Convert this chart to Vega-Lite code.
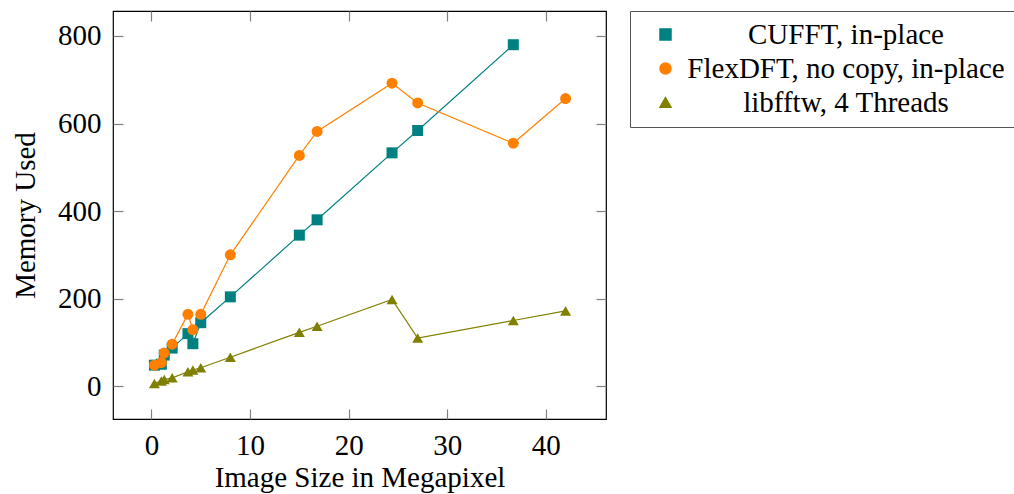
{
  "$schema": "https://vega.github.io/schema/vega-lite/v6.json",
  "width": 493,
  "height": 408,
  "autosize": {"type": "none"},
  "padding": {"left": 113, "top": 11, "right": 408, "bottom": 75},
  "background": "white",
  "config": {
    "font": "Liberation Serif",
    "view": {"stroke": "black", "strokeWidth": 1.2},
    "axis": {
      "labelFont": "Liberation Serif",
      "titleFont": "Liberation Serif",
      "labelFontSize": 29,
      "titleFontSize": 29,
      "labelColor": "black",
      "titleColor": "black",
      "titleFontWeight": "normal",
      "domain": false,
      "grid": false,
      "tickColor": "#808080",
      "tickWidth": 1.2,
      "tickSize": -10
    },
    "legend": {
      "labelFont": "Liberation Serif",
      "labelFontSize": 29,
      "labelColor": "black"
    }
  },
  "data": {
    "values": [
      {"series": "CUFFT, in-place", "mp": 0.3, "mem": 48},
      {"series": "CUFFT, in-place", "mp": 1.0, "mem": 50},
      {"series": "CUFFT, in-place", "mp": 1.3, "mem": 71},
      {"series": "CUFFT, in-place", "mp": 2.1, "mem": 87},
      {"series": "CUFFT, in-place", "mp": 3.7, "mem": 120},
      {"series": "CUFFT, in-place", "mp": 4.2, "mem": 97},
      {"series": "CUFFT, in-place", "mp": 5.0, "mem": 145},
      {"series": "CUFFT, in-place", "mp": 8.0, "mem": 204},
      {"series": "CUFFT, in-place", "mp": 15.0, "mem": 345},
      {"series": "CUFFT, in-place", "mp": 16.8, "mem": 380},
      {"series": "CUFFT, in-place", "mp": 24.4, "mem": 533},
      {"series": "CUFFT, in-place", "mp": 27.0, "mem": 584},
      {"series": "CUFFT, in-place", "mp": 36.7, "mem": 780},
      {"series": "FlexDFT, no copy, in-place", "mp": 0.3, "mem": 48},
      {"series": "FlexDFT, no copy, in-place", "mp": 1.0, "mem": 54},
      {"series": "FlexDFT, no copy, in-place", "mp": 1.3, "mem": 76},
      {"series": "FlexDFT, no copy, in-place", "mp": 2.1, "mem": 96},
      {"series": "FlexDFT, no copy, in-place", "mp": 3.7, "mem": 164},
      {"series": "FlexDFT, no copy, in-place", "mp": 4.2, "mem": 129},
      {"series": "FlexDFT, no copy, in-place", "mp": 5.0, "mem": 164},
      {"series": "FlexDFT, no copy, in-place", "mp": 8.0, "mem": 300},
      {"series": "FlexDFT, no copy, in-place", "mp": 15.0, "mem": 527},
      {"series": "FlexDFT, no copy, in-place", "mp": 16.8, "mem": 582},
      {"series": "FlexDFT, no copy, in-place", "mp": 24.4, "mem": 692},
      {"series": "FlexDFT, no copy, in-place", "mp": 27.0, "mem": 647},
      {"series": "FlexDFT, no copy, in-place", "mp": 36.7, "mem": 555},
      {"series": "FlexDFT, no copy, in-place", "mp": 42.0, "mem": 657},
      {"series": "libfftw, 4 Threads", "mp": 0.3, "mem": 6},
      {"series": "libfftw, 4 Threads", "mp": 1.0, "mem": 12},
      {"series": "libfftw, 4 Threads", "mp": 1.3, "mem": 15},
      {"series": "libfftw, 4 Threads", "mp": 2.1, "mem": 19},
      {"series": "libfftw, 4 Threads", "mp": 3.7, "mem": 33},
      {"series": "libfftw, 4 Threads", "mp": 4.2, "mem": 37},
      {"series": "libfftw, 4 Threads", "mp": 5.0, "mem": 42},
      {"series": "libfftw, 4 Threads", "mp": 8.0, "mem": 66},
      {"series": "libfftw, 4 Threads", "mp": 15.0, "mem": 123},
      {"series": "libfftw, 4 Threads", "mp": 16.8, "mem": 137},
      {"series": "libfftw, 4 Threads", "mp": 24.4, "mem": 198},
      {"series": "libfftw, 4 Threads", "mp": 27.0, "mem": 110},
      {"series": "libfftw, 4 Threads", "mp": 36.7, "mem": 150},
      {"series": "libfftw, 4 Threads", "mp": 42.0, "mem": 172}
    ]
  },
  "layer": [
    {
      "mark": {"type": "line", "strokeWidth": 1.2},
      "encoding": {
        "x": {
          "field": "mp", "type": "quantitative",
          "scale": {"domain": [-3.9, 46.1], "nice": false, "zero": false},
          "axis": {"orient": "bottom", "values": [0, 10, 20, 30, 40], "title": "Image Size in Megapixel", "labelPadding": 22, "titlePadding": 3}
        },
        "y": {
          "field": "mem", "type": "quantitative",
          "scale": {"domain": [-75, 857], "nice": false, "zero": false},
          "axis": {"orient": "left", "values": [0, 200, 400, 600, 800], "title": "Memory Used", "labelPadding": 22, "titlePadding": 17}
        },
        "color": {
          "field": "series", "type": "nominal",
          "scale": {"domain": ["CUFFT, in-place", "FlexDFT, no copy, in-place", "libfftw, 4 Threads"], "range": ["#008080", "#ff8000", "#808000"]},
          "legend": {
            "title": null,
            "orient": "right",
            "offset": 23,
            "padding": 9,
            "strokeColor": "#555555",
            "fillColor": "white",
            "cornerRadius": 0,
            "symbolOpacity": 1,
            "symbolOffset": 12,
            "labelAlign": "center",
            "labelOffset": 166,
            "labelLimit": 1000,
            "rowPadding": 4
          }
        }
      }
    },
    {
      "mark": {"type": "point", "filled": true, "opacity": 1},
      "encoding": {
        "x": {
          "field": "mp", "type": "quantitative",
          "axis": {"orient": "top", "values": [0, 10, 20, 30, 40], "labels": false, "title": null}
        },
        "y": {
          "field": "mem", "type": "quantitative",
          "axis": {"orient": "right", "values": [0, 200, 400, 600, 800], "labels": false, "title": null}
        },
        "color": {"field": "series", "type": "nominal"},
        "shape": {
          "field": "series", "type": "nominal",
          "scale": {"domain": ["CUFFT, in-place", "FlexDFT, no copy, in-place", "libfftw, 4 Threads"], "range": ["square", "circle", "triangle-up"]},
          "legend": null
        },
        "size": {
          "field": "series", "type": "nominal",
          "scale": {"domain": ["CUFFT, in-place", "FlexDFT, no copy, in-place", "libfftw, 4 Threads"], "range": [121, 121, 130]},
          "legend": null
        }
      }
    }
  ]
}
